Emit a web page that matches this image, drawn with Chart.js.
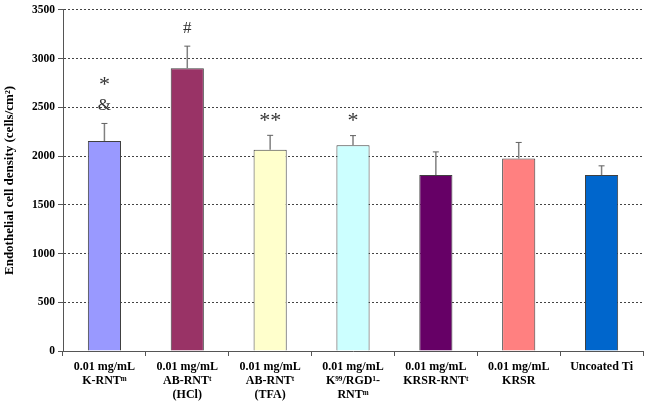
<!DOCTYPE html>
<html>
<head>
<meta charset="utf-8">
<script src="https://cdn.jsdelivr.net/npm/chart.js@4"></script>
<style>
  html, body { margin: 0; padding: 0; background: #fff; }
  #wrap { width: 647px; height: 407px; }
</style>
</head>
<body>
<div id="wrap"><canvas id="cellChart"></canvas></div>
<script>
// ---------- Data ----------
const categories = [
  ["0.01 mg/mL", "K-RNT\u1D50"],
  ["0.01 mg/mL", "AB-RNT\u1D57", "(HCl)"],
  ["0.01 mg/mL", "AB-RNT\u1D57", "(TFA)"],
  ["0.01 mg/mL", "K\u2079\u2079/RGD\u00B9-", "RNT\u1D50"],
  ["0.01 mg/mL", "KRSR-RNT\u1D57"],
  ["0.01 mg/mL", "KRSR"],
  ["Uncoated Ti"]
];
const density = [2155, 2900, 2065, 2110, 1805, 1975, 1805];
const errorUp = [180, 228, 148, 100, 238, 165, 95];
const marks = [["*", "&"], ["#"], ["**"], ["*"], [], [], []];
const barColors = ["#9999FF", "#993366", "#FFFFCC", "#CCFFFF", "#660066", "#FF8080", "#0066CC"];
const yTicks = [0, 500, 1000, 1500, 2000, 2500, 3000, 3500];

const serif = "'Liberation Serif', 'Times New Roman', serif";

// ---------- Plugins ----------
// upper error bars with a small cap
const errorBars = {
  id: "errorBars",
  afterDatasetsDraw(chart) {
    const ctx = chart.ctx;
    const y = chart.scales.y;
    const meta = chart.getDatasetMeta(0);
    ctx.save();
    meta.data.forEach((bar, i) => {
      const top = y.getPixelForValue(density[i] + errorUp[i]);
      ctx.strokeStyle = "#808080";
      ctx.lineWidth = 1.5;
      ctx.beginPath();
      ctx.moveTo(bar.x, bar.y);
      ctx.lineTo(bar.x, top);
      ctx.stroke();
      ctx.strokeStyle = "#606060";
      ctx.lineWidth = 1;
      ctx.beginPath();
      ctx.moveTo(bar.x - 3, top);
      ctx.lineTo(bar.x + 3, top);
      ctx.stroke();
    });
    ctx.restore();
  }
};

// significance symbols above the error bars
const sigMarks = {
  id: "sigMarks",
  afterDatasetsDraw(chart) {
    const ctx = chart.ctx;
    const y = chart.scales.y;
    const meta = chart.getDatasetMeta(0);
    ctx.save();
    ctx.fillStyle = "#333";
    ctx.textAlign = "center";
    ctx.textBaseline = "middle";
    meta.data.forEach((bar, i) => {
      const top = y.getPixelForValue(density[i] + errorUp[i]);
      const list = marks[i].slice().reverse();
      list.forEach((m, k) => {
        const isStar = m.indexOf("*") >= 0;
        ctx.font = (isStar ? "22px " : "17px ") + serif;
        const off = 18 + 24 * k;
        ctx.fillText(m, bar.x, top - off + (isStar ? 4 : 0));
      });
    });
    ctx.restore();
  }
};

// ---------- Chart ----------
const ctx = document.getElementById("cellChart").getContext("2d");
new Chart(ctx, {
  type: "bar",
  data: {
    labels: categories,
    datasets: [{
      data: density,
      backgroundColor: barColors,
      borderColor: "#404040",
      borderWidth: 1,
      barPercentage: 0.4,
      categoryPercentage: 1
    }]
  },
  options: {
    responsive: true,
    maintainAspectRatio: false,
    animation: false,
    layout: { padding: { left: 0, right: 4, top: 7, bottom: 0 } },
    plugins: { legend: { display: false }, tooltip: { enabled: false } },
    scales: {
      x: {
        offset: true,
        grid: {
          display: true,
          offset: true,
          drawOnChartArea: false,
          tickLength: 5,
          color: "#555"
        },
        border: { color: "#555", width: 1 },
        ticks: {
          color: "#000",
          maxRotation: 0,
          autoSkip: false,
          padding: 4,
          font: { family: serif, size: 12, weight: "bold", lineHeight: 1.17 }
        },
        afterFit(scale) { scale.height = 56; }
      },
      y: {
        min: 0,
        max: 3500,
        afterBuildTicks(scale) { scale.ticks = yTicks.map(v => ({ value: v })); },
        grid: {
          color: ctx => ctx.tick && ctx.tick.value === 0 ? "rgba(0,0,0,0)" : "#444",
          lineWidth: 1,
          tickLength: 5,
          tickColor: "#555"
        },
        border: { color: "#555", width: 1, dash: [2, 2] },
        ticks: {
          color: "#000",
          padding: 3,
          callback: v => String(v),
          font: { family: serif, size: 11.5, weight: "bold" }
        },
        title: {
          display: true,
          text: "Endothelial cell density (cells/cm\u00B2)",
          color: "#000",
          padding: { top: 2, bottom: 2 },
          font: { family: serif, size: 13, weight: "bold" }
        },
        afterFit(scale) { scale.width = 63; }
      }
    }
  },
  plugins: [errorBars, sigMarks]
});
</script>
</body>
</html>
